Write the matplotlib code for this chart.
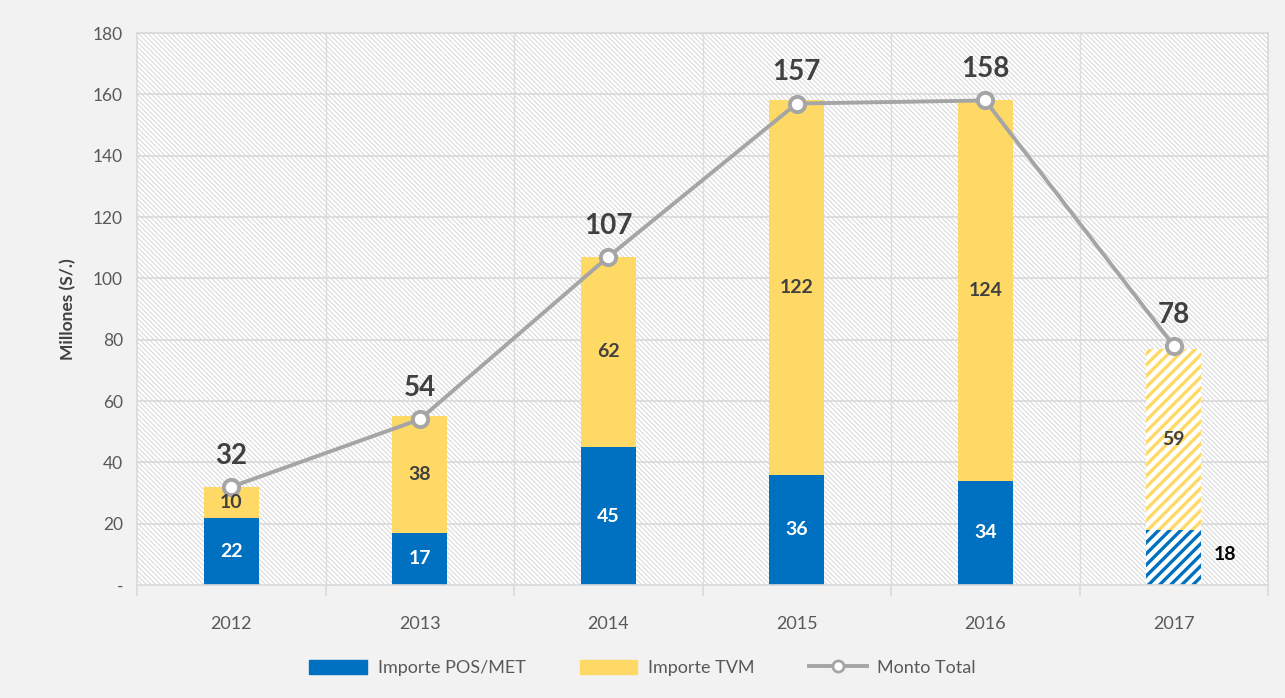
import matplotlib
matplotlib.use("Agg")
import matplotlib.pyplot as plt
from matplotlib.patches import Rectangle
from matplotlib.lines import Line2D
import numpy as np

years = ["2012", "2013", "2014", "2015", "2016", "2017"]
pos_met = [22, 17, 45, 36, 34, 18]
tvm = [10, 38, 62, 122, 124, 59]
total = [32, 54, 107, 157, 158, 78]
yticks = [0, 20, 40, 60, 80, 100, 120, 140, 160, 180]
ytick_labels = ["-", "20", "40", "60", "80", "100", "120", "140", "160", "180"]

BLUE = "#0070C0"
YELLOW = "#FFD966"
GRAY = "#A5A5A5"
DARK = "#404040"
BG = "#F2F2F2"

plt.rcParams['font.family'] = ['Lato', 'DejaVu Sans']

fig = plt.figure(figsize=(12.85, 6.98), dpi=100, facecolor=BG)
ax = fig.add_axes([137/1285, 1-585/698, (1268-137)/1285, (585-33)/698])
ax.set_facecolor("white")
ax.set_xlim(-0.5, len(years) - 0.5)
ax.set_ylim(0, 180)

# hatched background
plt.rcParams['hatch.linewidth'] = 0.7
bgpatch = Rectangle((0, 0), 1, 1, transform=ax.transAxes, facecolor="white",
                    edgecolor="#D6D6D6", hatch="\\" * 7, linewidth=0, zorder=0)
ax.add_patch(bgpatch)

# gridlines
for yv in yticks[1:]:
    ax.axhline(yv, color="#D9D9D9", lw=1.2, zorder=1)
for xb in np.arange(0.5, len(years) - 0.5, 1):
    ax.axvline(xb, color="#DCDCDC", lw=1.0, zorder=1)

x = np.arange(len(years))
w = 0.29
for i in range(len(years)):
    if i == len(years) - 1:
        plt.rcParams['hatch.linewidth'] = 2.4
        ax.bar(x[i], pos_met[i], w, facecolor="white", edgecolor=BLUE,
               hatch="///", linewidth=0, zorder=2)
        ax.bar(x[i], tvm[i], w, bottom=pos_met[i], facecolor="white",
               edgecolor=YELLOW, hatch="///", linewidth=0, zorder=2)
    else:
        ax.bar(x[i], pos_met[i], w, color=BLUE, zorder=2)
        ax.bar(x[i], tvm[i], w, bottom=pos_met[i], color=YELLOW, zorder=2)

ax.plot(x, total, color=GRAY, lw=2.8, marker="o", markersize=11,
        markerfacecolor="white", markeredgecolor=GRAY, markeredgewidth=2.8, zorder=4)

for i in range(len(years)):
    ax.annotate(str(total[i]), (x[i], total[i]), xytext=(0, 13),
                textcoords="offset points", ha="center", va="bottom",
                fontsize=20, fontweight="bold", color=DARK, zorder=5)
    if i == len(years) - 1:
        ax.annotate(str(pos_met[i]), (x[i] + w / 2, pos_met[i] / 2),
                    xytext=(9, 2), textcoords="offset points",
                    ha="left", va="center", fontsize=14, fontweight="bold",
                    color="black", zorder=5)
    else:
        ax.text(x[i], pos_met[i] / 2, str(pos_met[i]), ha="center", va="center",
                fontsize=14, fontweight="bold", color="white", zorder=5)
    ax.text(x[i], pos_met[i] + tvm[i] / 2, str(tvm[i]), ha="center", va="center",
            fontsize=14, fontweight="bold", color=DARK, zorder=5)

ax.set_yticks(yticks)
ax.set_yticklabels(ytick_labels, fontsize=12.5, color="#595959")
ax.tick_params(axis="y", length=0, pad=10)
ax.set_xticks(x)
ax.set_xticklabels(years, fontsize=13, color="#595959")
ax.tick_params(axis="x", length=0, pad=22)
ax.set_xticks(np.arange(-0.5, len(years), 1), minor=True)
ax.tick_params(axis="x", which="minor", length=8, color="#D9D9D9", width=1.2)
ax.set_ylabel("Millones (S/.)", fontsize=12.5, fontweight="bold", color=DARK, labelpad=12)

for s in ["top", "right", "left", "bottom"]:
    ax.spines[s].set_color("#D9D9D9")
    ax.spines[s].set_linewidth(1.2)

handles = [Rectangle((0, 0), 1, 1, color=BLUE),
           Rectangle((0, 0), 1, 1, color=YELLOW),
           Line2D([0], [0], color=GRAY, lw=2.8, marker="o", markersize=8,
                  markerfacecolor="white", markeredgecolor=GRAY, markeredgewidth=2)]
fig.legend(handles, ["Importe POS/MET", "Importe TVM", "Monto Total"],
           loc="center", bbox_to_anchor=(0.5, 1 - 668/698), ncol=3, frameon=False,
           fontsize=13, labelcolor="#595959", handlelength=3.2, handleheight=0.8,
           columnspacing=3.0, handletextpad=0.6)

fig.savefig("out.png", dpi=100, facecolor=BG)
